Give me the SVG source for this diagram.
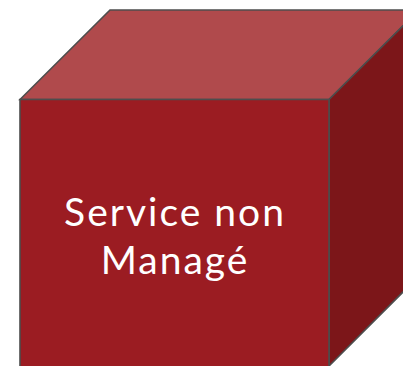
<svg xmlns="http://www.w3.org/2000/svg" width="403" height="366" viewBox="0 0 403 366">
<style>
.edge{stroke:#4d4d4d;stroke-width:1.6;stroke-linejoin:miter}
.lbl{font-family:Lato,"Open Sans",sans-serif;font-size:39px;letter-spacing:2px;fill:#ffffff;text-anchor:middle}
</style>
<g id="cube">
<polygon class="edge" fill="#b04a4c" points="20,99.5 110,10 419,10 329,99.5"/>
<polygon class="edge" fill="#7c1619" points="329,99.5 419,10 419,276 329,366"/>
<polygon class="edge" fill="#9b1c22" points="20,99.5 329,99.5 329,368 20,368"/>
<text class="lbl"><tspan x="175" y="226">Service non</tspan><tspan x="175" y="274">Managé</tspan></text>
</g>
</svg>
